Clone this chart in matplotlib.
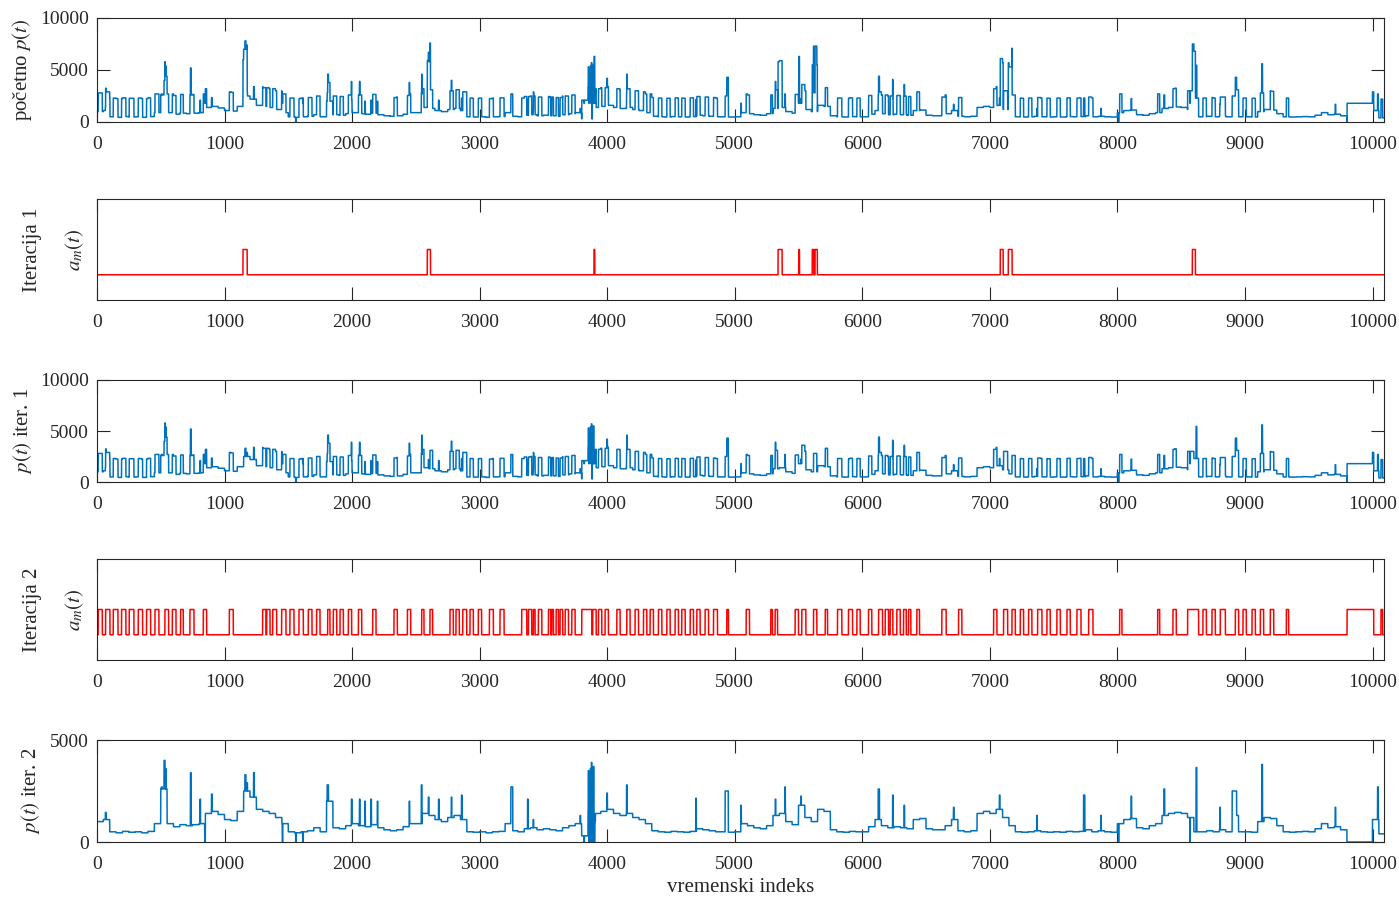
import numpy as np
import matplotlib
matplotlib.use("Agg")
import matplotlib.pyplot as plt

plt.rcParams['font.family'] = ['Liberation Serif', 'DejaVu Serif']
plt.rcParams['mathtext.fontset'] = 'stix'

N = 10090
BLOCK = 50

# p(t) after iteration 2, one level per 50-sample block
p2_blocks = [
    1000, 1100, 500, 450, 520, 480, 500, 450, 520, 900,
    2600, 900, 750, 850, 800, 850, 900, 1400, 1500, 1350,
    1100, 1050, 1500, 2500, 2200, 1600, 1500, 1400, 1200, 900,
    500, 450, 500, 550, 700, 500, 2000, 700, 650, 800,
    900, 800, 750, 850, 700, 600, 550, 600, 750, 900,
    900, 1400, 1300, 1100, 1000, 1200, 1300, 1100, 500, 480,
    500, 450, 500, 520, 900, 550, 500, 650, 700, 600,
    650, 600, 550, 700, 800, 900, 300, 1500, 1400, 1500,
    1600, 1400, 1300, 1400, 1200, 1100, 900, 550, 500, 480,
    520, 500, 480, 520, 650, 600, 550, 500, 500, 480,
    500, 900, 800, 700, 650, 800, 1300, 1400, 1000, 850,
    1800, 1200, 1000, 1600, 1500, 600, 500, 480, 520, 500,
    500, 750, 1100, 800, 700, 750, 700, 650, 1100, 1150,
    650, 600, 600, 800, 1100, 550, 500, 550, 1400, 1500,
    1400, 1600, 1200, 800, 500, 480, 500, 550, 500, 480,
    500, 480, 520, 500, 520, 600, 500, 550, 500, 480,
    900, 1100, 1150, 700, 650, 800, 900, 1300, 1400, 1450,
    1400, 1200, 500, 500, 550, 500, 600, 500, 1300, 500,
    500, 480, 1000, 1200, 1150, 800, 500, 480, 500, 520,
    500, 650, 900, 700, 750, 600, 0, 0, 0, 0,
    1100, 400,
]

# short spikes / dips in p(t) iter. 2: (start, end, value)
p2_events = [
    (66, 72, 1450), (505, 512, 2700), (526, 534, 4000), (538, 542, 3600),
    (733, 738, 3400), (808, 812, 2100), (845, 850, 0), (898, 903, 2350),
    (1160, 1168, 3300), (1175, 1180, 2900), (1228, 1234, 3400), (1453, 1457, 0),
    (1558, 1562, 0), (1613, 1617, 0), (1805, 1815, 2800), (1995, 2000, 2100),
    (2058, 2062, 2100), (2100, 2104, 2000), (2148, 2152, 2100), (2198, 2202, 2000),
    (2448, 2452, 2000), (2543, 2548, 2800), (2598, 2603, 2200), (2678, 2682, 2100),
    (2778, 2782, 2200), (2858, 2862, 2300), (3245, 3260, 2700), (3376, 3380, 2100),
    (3420, 3424, 1100), (3788, 3792, 1300), (3818, 3822, 0),
    (3852, 3856, 3500), (3856, 3860, 0), (3860, 3864, 3300), (3864, 3868, 200),
    (3868, 3872, 3600), (3872, 3876, 0), (3876, 3880, 3900), (3880, 3884, 300),
    (3884, 3888, 3400), (3888, 3892, 0), (3892, 3896, 3700), (3896, 3904, 0),
    (3904, 3908, 1000),
    (3998, 4002, 2400), (4152, 4156, 2800), (4695, 4699, 2150), (4925, 4950, 2500),
    (5048, 5052, 1800), (5318, 5322, 2100), (5393, 5397, 2700), (5518, 5522, 2250),
    (5628, 5632, 1000), (6125, 6135, 2600), (6238, 6242, 2300), (6328, 6332, 1800),
    (6715, 6719, 1700), (7075, 7079, 2300), (7368, 7372, 1300), (7735, 7745, 2300),
    (7870, 7874, 1300), (8008, 8012, 0), (8108, 8112, 2250), (8365, 8371, 2600),
    (8568, 8572, 0), (8617, 8623, 3650), (8803, 8807, 1700), (8900, 8935, 2500),
    (9132, 9138, 3800), (9708, 9712, 1700), (10040, 10046, 2700),
]

# a_m(t) of iteration 1: on-intervals
a1_on = [
    (1145, 1178), (2590, 2615), (3897, 3903), (5340, 5372), (5502, 5508),
    (5608, 5620), (5630, 5648), (7082, 7105), (7145, 7175), (8588, 8612),
]

# a_m(t) of iteration 2: on-intervals
a2_on = [
    (10, 42), (68, 102), (128, 165), (193, 227), (253, 290), (324, 358),
    (389, 421), (455, 486), (533, 562), (591, 620), (656, 677), (729, 761),
    (834, 860), (1038, 1069), (1299, 1325), (1331, 1357), (1378, 1409),
    (1448, 1482), (1513, 1545), (1584, 1618), (1657, 1686), (1722, 1749),
    (1809, 1827), (1853, 1880), (1906, 1932), (1971, 1997), (2050, 2076),
    (2162, 2188), (2329, 2355), (2434, 2460), (2546, 2564), (2611, 2632),
    (2768, 2794), (2815, 2841), (2868, 2899), (2925, 2951), (2990, 3016),
    (3077, 3108), (3160, 3192), (3330, 3370), (3383, 3409), (3422, 3435),
    (3461, 3488), (3540, 3558), (3566, 3579), (3600, 3618), (3631, 3652),
    (3671, 3697), (3723, 3749), (3801, 3880), (3887, 3914), (3932, 3958),
    (3984, 4010), (4076, 4102), (4154, 4180), (4219, 4246), (4285, 4311),
    (4337, 4363), (4402, 4429), (4468, 4494), (4533, 4559), (4585, 4612),
    (4651, 4677), (4703, 4729), (4768, 4795), (4834, 4865), (4938, 4951),
    (5090, 5116), (5283, 5296), (5317, 5336), (5474, 5500), (5526, 5558),
    (5618, 5644), (5710, 5728), (5806, 5840), (5892, 5924), (5958, 5984),
    (6049, 6075), (6128, 6159), (6180, 6206), (6219, 6240), (6271, 6298),
    (6324, 6345), (6363, 6381), (6428, 6449), (6624, 6658), (6755, 6781),
    (7030, 7056), (7108, 7140), (7174, 7200), (7239, 7265), (7304, 7330),
    (7375, 7409), (7448, 7474), (7526, 7553), (7605, 7631), (7683, 7715),
    (7775, 7809), (8018, 8036), (8316, 8332), (8436, 8462), (8551, 8637),
    (8671, 8698), (8742, 8768), (8807, 8847), (8925, 8951), (8985, 9011),
    (9056, 9082), (9121, 9147), (9199, 9226), (9325, 9343), (9801, 10010),
    (10067, 10080),
]

A1 = 4500   # height of the iteration-1 component
A2 = 1800   # height of the iteration-2 component

# build the signals
t = np.arange(N)
p2 = np.repeat(np.array(p2_blocks, dtype=float), BLOCK)[:N]
for s, e, v in p2_events:
    p2[s:e] = v

a1 = np.zeros(N)
for s, e in a1_on:
    a1[s:e] = 1
a2 = np.zeros(N)
for s, e in a2_on:
    a2[s:e] = 1

p1 = p2 + A2 * a2
p0 = p1 + A1 * a1

blue = '#0072BD'
red = '#FF0000'
dark = '#262626'

fig = plt.figure(figsize=(13.99, 8.97), dpi=100)
left, width = 97 / 1399, 1287 / 1399
rows = [(18, 122), (199, 300), (380, 482), (559, 660), (740, 842)]
axes = []
for top, bot in rows:
    ax = fig.add_axes([left, (897 - bot) / 897, width, (bot - top) / 897])
    axes.append(ax)

series = [(p0, blue), (a1, red), (p1, blue), (a2, red), (p2, blue)]
for ax, (y, c) in zip(axes, series):
    ax.plot(t, y, color=c, lw=1.1)
    ax.set_xlim(0, N)
    ax.set_xticks(np.arange(0, 10001, 1000))
    ax.tick_params(direction='in', length=9.4, width=0.8, top=True, right=True,
                   labelsize=14, colors=dark)
    ax.tick_params(axis='x', pad=10)
    ax.tick_params(axis='y', pad=6)
    for sp in ax.spines.values():
        sp.set_color(dark)
        sp.set_linewidth(0.8)

axes[0].set_ylim(0, 10000)
axes[0].set_yticks([0, 5000, 10000])
axes[2].set_ylim(0, 10000)
axes[2].set_yticks([0, 5000, 10000])
axes[4].set_ylim(0, 5000)
axes[4].set_yticks([0, 5000])
for ax in (axes[1], axes[3]):
    ax.set_ylim(-1, 3)
    ax.set_yticks([])

def ylab(ax, xpix, text):
    ax.text((xpix - 97) / 1287, 0.5, text, transform=ax.transAxes, rotation=90,
            ha='center', va='center', fontsize=15, color=dark)

ylab(axes[0], 22, 'početno $p(t)$')
ylab(axes[1], 32, 'Iteracija 1')
ylab(axes[1], 75, '$a_m(t)$')
ylab(axes[2], 22, '$p(t)$ iter. 1')
ylab(axes[3], 32, 'Iteracija 2')
ylab(axes[3], 75, '$a_m(t)$')
ylab(axes[4], 30, '$p(t)$ iter. 2')

axes[4].set_xlabel('vremenski indeks', fontsize=15, color=dark, labelpad=4)

fig.savefig('out.png', dpi=100)
